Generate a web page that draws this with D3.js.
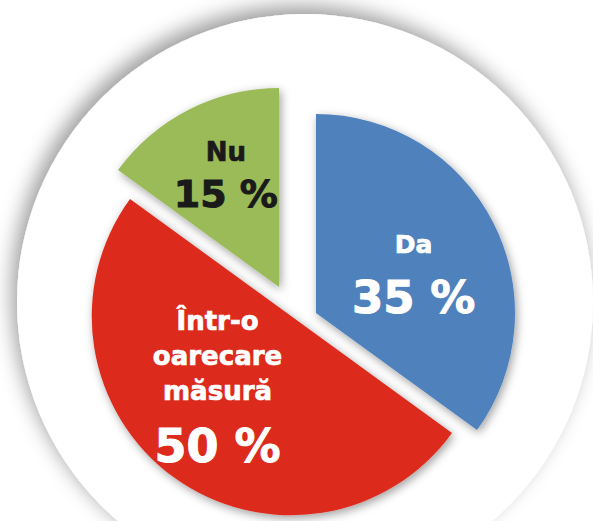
<!DOCTYPE html>
<html>
<head>
<meta charset="utf-8">
<script src="https://cdn.jsdelivr.net/npm/d3@7"></script>
<style>
  html, body { margin: 0; padding: 0; background: #fff; }
  svg { display: block; }
  .lbl { font-family: "DejaVu Sans", Verdana, sans-serif; font-weight: bold; text-anchor: middle; }
</style>
</head>
<body>
<svg id="chart" width="593" height="521"></svg>
<script>
// answers and their shares
let categories = ["Da", "Într-o oarecare măsură", "Nu"];
let values = [35, 50, 15];
let valueLabels = ["35 %", "50 %", "15 %"];
// how each name is broken into lines inside its slice
let nameLines = [["Da"], ["Într-o", "oarecare", "măsură"], ["Nu"]];

let colors = ["#4f81bd", "#dc2c1f", "#9bbb59"];
let textColors = ["#ffffff", "#ffffff", "#1a1a1a"];

//======================= LAYOUT =========================
let svg = d3.select("#chart"),
    width = +svg.attr("width"),
    height = +svg.attr("height"),
    radius = 199,
    cx = 291, cy = 316;

// slice pull-out, pixels (dx, dy)
let explode = [[25, -3], [0, 0], [-12, -29]];
// label block placement relative to slice centroid, and font sizes
let labelShift = [[9, -15], [-15, -66], [-8, -37]];
let nameSize = [25, 26, 26];
let valueSize = [45, 46, 38];
let nameGap = [34, 35, 0];
let valueGap = [60, 62, 46];

let defs = svg.append("defs");
let bgShadow = defs.append("filter").attr("id", "bgShadow")
  .attr("x", "-20%").attr("y", "-20%").attr("width", "140%").attr("height", "140%");
bgShadow.append("feDropShadow")
  .attr("dx", -5).attr("dy", -8).attr("stdDeviation", 10)
  .attr("flood-color", "#000").attr("flood-opacity", 0.38);

let sliceShadow = defs.append("filter").attr("id", "sliceShadow")
  .attr("x", "-20%").attr("y", "-20%").attr("width", "140%").attr("height", "140%");
sliceShadow.append("feDropShadow")
  .attr("dx", 2).attr("dy", 3).attr("stdDeviation", 5)
  .attr("flood-color", "#000").attr("flood-opacity", 0.38);

// white disc behind the pie
svg.append("circle")
  .attr("cx", 305).attr("cy", 302).attr("r", 288)
  .attr("fill", "#fff")
  .attr("filter", "url(#bgShadow)");

//============================= PIE =====================================
let pie = d3.pie().sort(null).value(d => d.value);
let arc = d3.arc().innerRadius(0).outerRadius(radius);

let inputData = categories.map((c, i) => ({
  name: c, value: values[i], label: valueLabels[i], lines: nameLines[i], i: i
}));

let g = svg.append("g").attr("transform", "translate(" + cx + "," + cy + ")");

let slice = g.selectAll(".slice")
  .data(pie(inputData))
  .enter().append("g")
    .attr("class", "slice")
    .attr("transform", d => "translate(" + explode[d.data.i][0] + "," + explode[d.data.i][1] + ")");

slice.append("path")
  .attr("d", arc)
  .attr("fill", d => colors[d.data.i])
  .attr("filter", "url(#sliceShadow)");

// labels on top of all slices
let labels = g.selectAll(".labelGroup")
  .data(pie(inputData))
  .enter().append("g")
    .attr("class", "labelGroup")
    .attr("transform", d => {
      let c = arc.centroid(d), k = d.data.i;
      return "translate(" + (c[0] + explode[k][0] + labelShift[k][0]) + "," +
                            (c[1] + explode[k][1] + labelShift[k][1]) + ")";
    });

labels.each(function(d) {
  let k = d.data.i, el = d3.select(this);
  d.data.lines.forEach((line, j) => {
    el.append("text")
      .attr("class", "lbl")
      .attr("y", j * nameGap[k])
      .style("font-size", nameSize[k] + "px")
      .style("fill", textColors[k])
      .style("stroke", textColors[k])
      .style("stroke-width", 0.7)
      .text(line);
  });
  el.append("text")
    .attr("class", "lbl")
    .attr("y", (d.data.lines.length - 1) * nameGap[k] + valueGap[k])
    .style("font-size", valueSize[k] + "px")
    .style("fill", textColors[k])
    .style("stroke", textColors[k])
    .style("stroke-width", 1)
    .text(d.data.label);
});
</script>
</body>
</html>
